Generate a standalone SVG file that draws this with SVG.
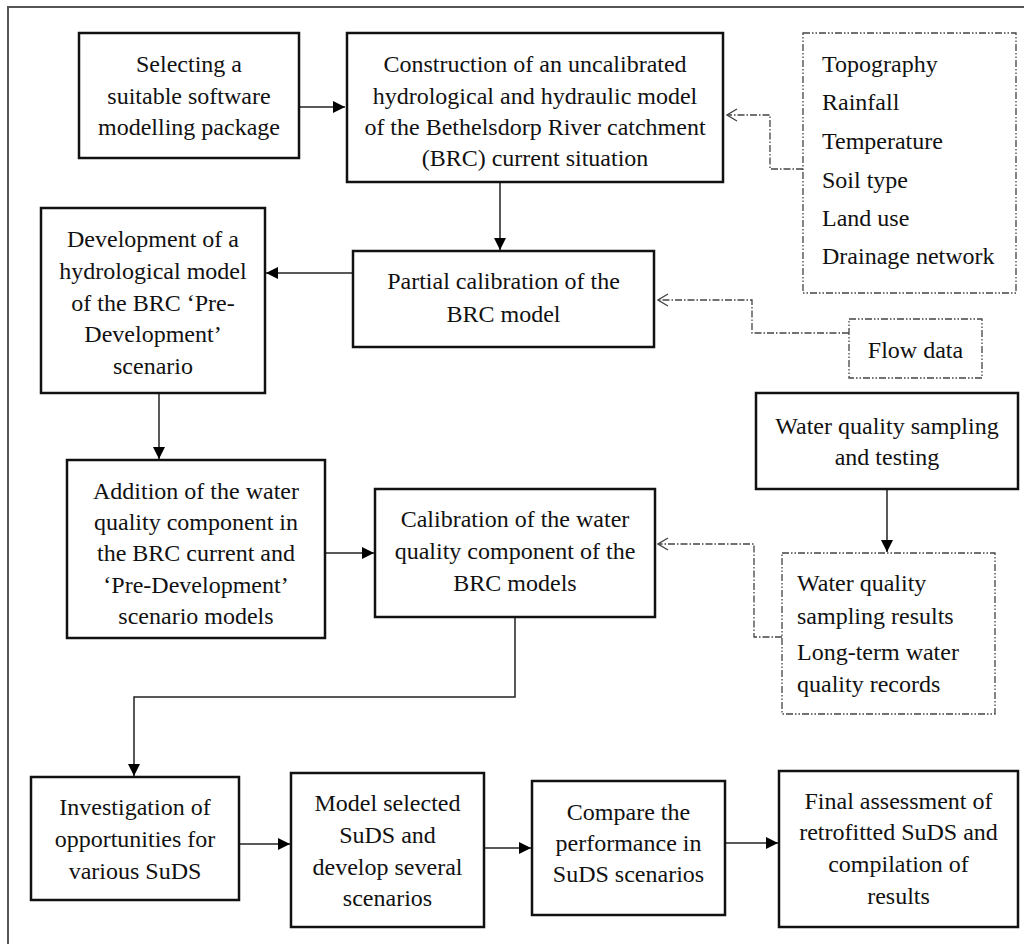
<svg xmlns="http://www.w3.org/2000/svg" width="1024" height="944" viewBox="0 0 1024 944">
  <style>
    .box { fill: #fff; stroke: #111; stroke-width: 2.5; }
    .dbox { fill: #fff; stroke: #444; stroke-width: 1.3; stroke-dasharray: 7 2 1.5 2 1.5 2; }
    text { font-family: 'Liberation Serif', 'DejaVu Serif', serif; font-size: 24px; fill: #111; }
    .t { text-anchor: middle; }
    .tl { text-anchor: start; }
    .conn { fill: none; stroke: #222; stroke-width: 1.5; }
    .dconn { fill: none; stroke: #444; stroke-width: 1.3; stroke-dasharray: 7 2 1.5 2; }
  </style>
  <defs>
    <marker id="arr" viewBox="0 0 12 12" refX="12" refY="6" markerWidth="12" markerHeight="12" markerUnits="userSpaceOnUse" orient="auto">
      <path d="M0,0 L12,6 L0,12 z" fill="#000" stroke="none"/>
    </marker>
    <marker id="open" viewBox="0 0 12 14" refX="11" refY="7" markerWidth="12" markerHeight="14" markerUnits="userSpaceOnUse" orient="auto">
      <path d="M1,1 L11,7 L1,13" fill="none" stroke="#444" stroke-width="1.3" stroke-dasharray="none"/>
    </marker>
  </defs>
  <rect width="1024" height="944" fill="#fff"/>
  <path d="M8,944 V7 H1024" fill="none" stroke="#555" stroke-width="2"/>

  <g id="connectors">
    <line class="conn" x1="299" y1="107" x2="345" y2="107" marker-end="url(#arr)"/>
    <line class="conn" x1="500" y1="182" x2="500" y2="250" marker-end="url(#arr)"/>
    <line class="conn" x1="353" y1="273" x2="266" y2="273" marker-end="url(#arr)"/>
    <line class="conn" x1="159" y1="393" x2="159" y2="459" marker-end="url(#arr)"/>
    <line class="conn" x1="325" y1="553" x2="374" y2="553" marker-end="url(#arr)"/>
    <path class="conn" d="M515,617 V697 H134 V776" marker-end="url(#arr)"/>
    <line class="conn" x1="239" y1="844" x2="290" y2="844" marker-end="url(#arr)"/>
    <line class="conn" x1="484" y1="848" x2="531" y2="848" marker-end="url(#arr)"/>
    <line class="conn" x1="725" y1="843" x2="778" y2="843" marker-end="url(#arr)"/>
    <line class="conn" x1="887" y1="489" x2="887" y2="552" marker-end="url(#arr)"/>
    <path class="dconn" d="M803,169 H770 V115 H727" marker-end="url(#open)"/>
    <path class="dconn" d="M849,333 H752 V300 H658" marker-end="url(#open)"/>
    <path class="dconn" d="M782,637 H754 V544 H658" marker-end="url(#open)"/>
  </g>

  <g id="n-select">
    <rect class="box" x="79" y="33" width="220" height="125"/>
    <text class="t" x="189" y="72">Selecting a</text>
    <text class="t" x="189" y="104">suitable software</text>
    <text class="t" x="189" y="135">modelling package</text>
  </g>

  <g id="n-construct">
    <rect class="box" x="347" y="33" width="376" height="149"/>
    <text class="t" x="535" y="72">Construction of an uncalibrated</text>
    <text class="t" x="535" y="104">hydrological and hydraulic model</text>
    <text class="t" x="535" y="135">of the Bethelsdorp River catchment</text>
    <text class="t" x="535" y="166">(BRC) current situation</text>
  </g>

  <g id="n-inputs">
    <rect class="dbox" x="803" y="33" width="213" height="260"/>
    <text class="tl" x="822" y="72">Topography</text>
    <text class="tl" x="822" y="110">Rainfall</text>
    <text class="tl" x="822" y="149">Temperature</text>
    <text class="tl" x="822" y="188">Soil type</text>
    <text class="tl" x="822" y="226">Land use</text>
    <text class="tl" x="822" y="264">Drainage network</text>
  </g>

  <g id="n-partial">
    <rect class="box" x="353" y="251" width="301" height="96"/>
    <text class="t" x="503.5" y="289">Partial calibration of the</text>
    <text class="t" x="503.5" y="322">BRC model</text>
  </g>

  <g id="n-flow">
    <rect class="dbox" x="849" y="319" width="133" height="59"/>
    <text class="t" x="915.5" y="358">Flow data</text>
  </g>

  <g id="n-develop">
    <rect class="box" x="41" y="208" width="224" height="185"/>
    <text class="t" x="153" y="247">Development of a</text>
    <text class="t" x="153" y="279">hydrological model</text>
    <text class="t" x="153" y="311">of the BRC ‘Pre-</text>
    <text class="t" x="153" y="342">Development’</text>
    <text class="t" x="153" y="374">scenario</text>
  </g>

  <g id="n-wqsampling">
    <rect class="box" x="756" y="393" width="262" height="96"/>
    <text class="t" x="887" y="434">Water quality sampling</text>
    <text class="t" x="887" y="465">and testing</text>
  </g>

  <g id="n-addition">
    <rect class="box" x="67" y="460" width="258" height="178"/>
    <text class="t" x="196" y="499">Addition of the water</text>
    <text class="t" x="196" y="530">quality component in</text>
    <text class="t" x="196" y="561">the BRC current and</text>
    <text class="t" x="196" y="593">‘Pre-Development’</text>
    <text class="t" x="196" y="624">scenario models</text>
  </g>

  <g id="n-calibration">
    <rect class="box" x="375" y="489" width="280" height="128"/>
    <text class="t" x="515" y="527">Calibration of the water</text>
    <text class="t" x="515" y="559">quality component of the</text>
    <text class="t" x="515" y="591">BRC models</text>
  </g>

  <g id="n-wqresults">
    <rect class="dbox" x="782" y="553" width="213" height="161"/>
    <text class="tl" x="797" y="591">Water quality</text>
    <text class="tl" x="797" y="624">sampling results</text>
    <text class="tl" x="797" y="660">Long-term water</text>
    <text class="tl" x="797" y="692">quality records</text>
  </g>

  <g id="n-investigation">
    <rect class="box" x="31" y="777" width="208" height="123"/>
    <text class="t" x="135" y="815">Investigation of</text>
    <text class="t" x="135" y="847">opportunities for</text>
    <text class="t" x="135" y="879">various SuDS</text>
  </g>

  <g id="n-model">
    <rect class="box" x="291" y="773" width="193" height="154"/>
    <text class="t" x="387.5" y="811">Model selected</text>
    <text class="t" x="387.5" y="843">SuDS and</text>
    <text class="t" x="387.5" y="875">develop several</text>
    <text class="t" x="387.5" y="906">scenarios</text>
  </g>

  <g id="n-compare">
    <rect class="box" x="532" y="781" width="193" height="134"/>
    <text class="t" x="628.5" y="820">Compare the</text>
    <text class="t" x="628.5" y="851">performance in</text>
    <text class="t" x="628.5" y="882">SuDS scenarios</text>
  </g>

  <g id="n-final">
    <rect class="box" x="779" y="771" width="239" height="156"/>
    <text class="t" x="898.5" y="809">Final assessment of</text>
    <text class="t" x="898.5" y="840">retrofitted SuDS and</text>
    <text class="t" x="898.5" y="872">compilation of</text>
    <text class="t" x="898.5" y="904">results</text>
  </g>
</svg>
